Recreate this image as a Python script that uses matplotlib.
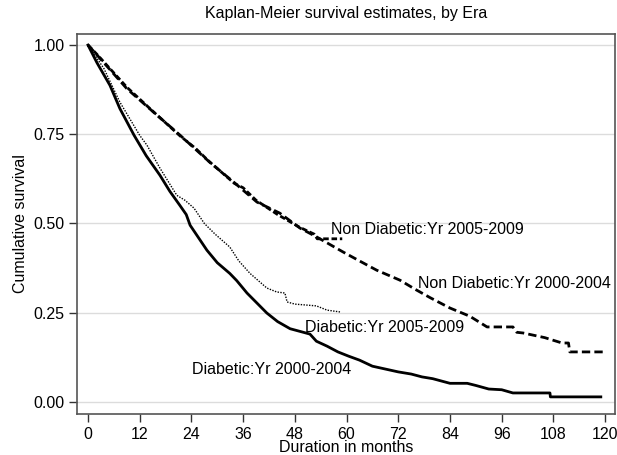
import numpy as np
import matplotlib
matplotlib.use("Agg")
import matplotlib.pyplot as plt

plt.rcParams['font.family'] = ['Liberation Sans', 'DejaVu Sans']

# survival estimates per group (months, cumulative survival)
diab_0004_t = [0, 2.1, 5.1, 7.4, 10.7, 13.5, 16.7, 19, 21.3, 22.8, 23.7, 27.6, 30,
               32.9, 34.5, 36.9, 41.5, 44, 46.9, 51.5, 53, 55.5, 58, 60.5, 63,
               66, 69, 72, 75, 77.5, 80, 84, 88, 90, 93, 96, 98.6, 107.2, 107.3, 119]
diab_0004_s = [1.0, 0.95, 0.887, 0.822, 0.747, 0.69, 0.635, 0.59, 0.551, 0.525,
               0.495, 0.425, 0.39, 0.36, 0.34, 0.305, 0.249, 0.225, 0.205, 0.19,
               0.17, 0.156, 0.14, 0.128, 0.117, 0.1, 0.092, 0.084, 0.078, 0.07,
               0.065, 0.052, 0.052, 0.046, 0.036, 0.034, 0.025, 0.025, 0.014, 0.014]

diab_0509_t = [0, 3.7, 7.4, 12, 13.7, 16.7, 20.6, 22.5, 24.6, 27, 29.5, 32.9, 35,
               37.6, 41.5, 43.8, 45.7, 46.2, 48, 53, 55.5, 58.5]
diab_0509_s = [1.0, 0.934, 0.84, 0.747, 0.719, 0.655, 0.579, 0.565, 0.543, 0.5,
               0.47, 0.434, 0.395, 0.36, 0.319, 0.308, 0.305, 0.28, 0.274, 0.269,
               0.257, 0.252]

nond_0004_t = [0, 2.1, 9, 15.3, 21.4, 28.3, 33.9, 39.2, 44.5, 49.2, 53.1, 59.2,
               63, 67, 72.4, 76, 79.4, 84, 88.6, 92.6, 98.6, 99.5, 101, 106, 110,
               111.5, 111.8, 119.5]
nond_0004_s = [1.0, 0.972, 0.878, 0.811, 0.747, 0.671, 0.615, 0.56, 0.529, 0.487,
               0.462, 0.42, 0.395, 0.369, 0.341, 0.315, 0.292, 0.263, 0.24, 0.21,
               0.21, 0.195, 0.193, 0.18, 0.165, 0.165, 0.14, 0.14]

nond_0509_t = [0, 2, 9, 15, 21.4, 25, 28, 34, 36, 39, 44, 49, 52.5, 53.2, 59]
nond_0509_s = [1.0, 0.975, 0.882, 0.815, 0.745, 0.71, 0.675, 0.612, 0.6, 0.565,
               0.525, 0.49, 0.47, 0.457, 0.457]

labels = ['Diabetic:Yr 2000-2004', 'Diabetic:Yr 2005-2009',
          'Non Diabetic:Yr 2000-2004', 'Non Diabetic:Yr 2005-2009']
label_x = [24.1, 50.3, 76.6, 56.4]
label_y = [0.078, 0.196, 0.319, 0.47]

fig = plt.figure(figsize=(6.17, 4.55), dpi=100)
ax = fig.add_axes([0.1248, 0.0901, 0.872, 0.8352])

ax.plot(nond_0004_t, nond_0004_s, color='black', lw=2.0, dashes=(3, 1.5))
ax.plot(nond_0509_t, nond_0509_s, color='black', lw=2.0, dashes=(2, 1))
ax.plot(diab_0509_t, diab_0509_s, color='black', lw=1.0, dashes=(1, 1))
ax.plot(diab_0004_t, diab_0004_s, color='black', lw=2.0)

for lab, x, y in zip(labels, label_x, label_y):
    ax.text(x, y, lab, fontsize=11.5, ha='left', va='baseline')

ax.set_xlim(-2.55, 122.3)
ax.set_ylim(-0.034, 1.031)
ax.set_xticks(np.arange(0, 121, 12))
ax.set_yticks([0, 0.25, 0.5, 0.75, 1.0])
ax.set_yticklabels(['0.00', '0.25', '0.50', '0.75', '1.00'])
ax.yaxis.grid(True, color='#dcdcdc', lw=1.0)
ax.set_axisbelow(True)
ax.tick_params(direction='out', length=6, width=1, labelsize=11.5, pad=3, color='#333333')

for s in ax.spines.values():
    s.set_color('#555555')
    s.set_linewidth(1.2)

ax.set_title('Kaplan-Meier survival estimates, by Era', fontsize=11.5, pad=11.5)
ax.set_xlabel('Duration in months', fontsize=11.5, labelpad=-1)
ax.set_ylabel('Cumulative survival', fontsize=11.5, labelpad=4)

fig.savefig('out.png', dpi=100)
